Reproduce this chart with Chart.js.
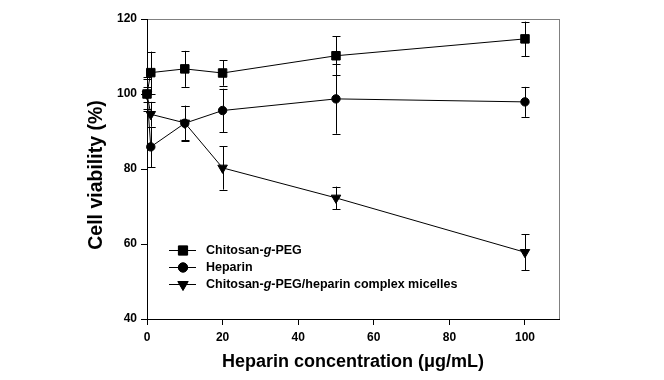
<!DOCTYPE html>
<html>
<head>
<meta charset="utf-8">
<script src="https://cdn.jsdelivr.net/npm/chart.js@4.4.1/dist/chart.umd.min.js"></script>
<style>
  html, body { margin: 0; padding: 0; background: #fff; }
  #wrap { width: 664px; height: 380px; }
</style>
</head>
<body>
<div id="wrap"><canvas id="viability" width="664" height="380"></canvas></div>
<script>
// --- data ---
const concentrations = [0, 1, 10, 20, 50, 100];
const chitosanPeg    = [100, 105.7, 106.7, 105.6, 110.2, 114.7];
const chitosanPegErr = [4.6, 5.6, 4.8, 3.4, 5.2, 4.6];
const heparin        = [100, 85.9, 92.2, 95.6, 98.7, 97.9];
const heparinErr     = [2.0, 5.4, 4.7, 5.8, 9.3, 4.0];
const micelles       = [100, 94.6, 92.3, 80.3, 72.3, 57.8];
const micellesErr    = [4.0, 3.3, 4.5, 5.8, 3.0, 4.8];
const xTicks = [0, 20, 40, 60, 80, 100];
const yTicks = [40, 60, 80, 100, 120];

const FONT = '"Liberation Sans", Arial, Helvetica, sans-serif';

const toPoints = (ys) => ys.map((y, i) => ({ x: concentrations[i], y }));

const seriesDefs = [
    { label: 'Chitosan-g-PEG', values: chitosanPeg, err: chitosanPegErr, style: 'rect', radius: 6, rotation: 0 },
    { label: 'Heparin', values: heparin, err: heparinErr, style: 'circle', radius: 4.2, rotation: 0 },
    { label: 'Chitosan-g-PEG/heparin complex micelles', values: micelles, err: micellesErr, style: 'triangle', radius: 5.5, rotation: 180 },
];

// gray frame on top / right, axes themselves drawn black by the scales
const framePlugin = {
    id: 'frame',
    beforeDraw(chart) {
        const { ctx, chartArea: a } = chart;
        ctx.save();
        ctx.strokeStyle = '#808080';
        ctx.lineWidth = 1;
        ctx.strokeRect(a.left + 0.5, a.top + 0.5, a.right - a.left, a.bottom - a.top);
        ctx.restore();
    }
};

// vertical error bars with caps
const errorBarPlugin = {
    id: 'errorBars',
    beforeDatasetsDraw(chart) {
        const { ctx, scales: { x, y } } = chart;
        ctx.save();
        ctx.strokeStyle = '#000';
        ctx.lineWidth = 1;
        seriesDefs.forEach(s => {
            s.values.forEach((v, i) => {
                const px = Math.round(x.getPixelForValue(concentrations[i])) + 0.5;
                const top = y.getPixelForValue(v + s.err[i]);
                const bot = y.getPixelForValue(v - s.err[i]);
                ctx.beginPath();
                ctx.moveTo(px, top); ctx.lineTo(px, bot);
                ctx.moveTo(px - 4, Math.round(top) + 0.5); ctx.lineTo(px + 4, Math.round(top) + 0.5);
                ctx.moveTo(px - 4, Math.round(bot) + 0.5); ctx.lineTo(px + 4, Math.round(bot) + 0.5);
                ctx.stroke();
            });
        });
        ctx.restore();
    }
};

// legend inside the plot (italic "g") and the y title
const legendPlugin = {
    id: 'innerLegend',
    afterDraw(chart) {
        const { ctx, chartArea: a } = chart;
        const x0 = a.left + 22;
        const rows = [a.bottom - 68.5, a.bottom - 51.5, a.bottom - 34.5];
        ctx.save();
        seriesDefs.forEach((s, i) => {
            const yy = rows[i];
            ctx.strokeStyle = '#000';
            ctx.lineWidth = 1;
            ctx.beginPath();
            ctx.moveTo(x0, yy); ctx.lineTo(x0 + 27, yy);
            ctx.stroke();
            ctx.fillStyle = '#000';
            Chart.helpers.drawPoint(ctx, {
                pointStyle: s.style, radius: s.radius + 0.5, rotation: s.rotation, borderWidth: 1
            }, x0 + 14, yy);
            ctx.fill();

            ctx.textBaseline = 'middle';
            let tx = x0 + 37;
            const parts = s.label.split(/(-g-)/);
            parts.forEach(p => {
                if (p === '-g-') {
                    ctx.font = 'bold 12.5px ' + FONT;
                    ctx.fillText('-', tx, yy); tx += ctx.measureText('-').width;
                    ctx.font = 'italic bold 12.5px ' + FONT;
                    ctx.fillText('g', tx, yy); tx += ctx.measureText('g').width;
                    ctx.font = 'bold 12.5px ' + FONT;
                    ctx.fillText('-', tx, yy); tx += ctx.measureText('-').width;
                } else {
                    ctx.font = 'bold 12.5px ' + FONT;
                    ctx.fillText(p, tx, yy); tx += ctx.measureText(p).width;
                }
            });
        });

        // y axis title, sits a little below the plot's middle in the original
        ctx.translate(a.left - 50, (a.top + a.bottom) / 2 + 6);
        ctx.rotate(-Math.PI / 2);
        ctx.font = 'bold 19.5px ' + FONT;
        ctx.textAlign = 'center';
        ctx.textBaseline = 'middle';
        ctx.fillText('Cell viability (%)', 0, 0);
        ctx.restore();
    }
};

new Chart(document.getElementById('viability'), {
    type: 'line',
    data: {
        datasets: seriesDefs.map(s => ({
            label: s.label,
            data: toPoints(s.values),
            borderColor: '#000',
            borderWidth: 1,
            backgroundColor: '#000',
            pointBackgroundColor: '#000',
            pointBorderColor: '#000',
            pointStyle: s.style,
            pointRadius: s.radius,
            pointRotation: s.rotation,
            pointBorderWidth: 1,
            tension: 0,
            fill: false,
            clip: false
        }))
    },
    options: {
        responsive: false,
        animation: false,
        devicePixelRatio: 1,
        layout: { padding: { left: 91, top: 19, right: 105, bottom: 0 } },
        plugins: {
            legend: { display: false },
            tooltip: { enabled: false }
        },
        scales: {
            x: {
                type: 'linear',
                min: 0,
                max: 109,
                afterBuildTicks: (scale) => { scale.ticks = xTicks.map(v => ({ value: v })); },
                afterFit: (scale) => { scale.height = 61; },
                grid: { drawOnChartArea: false, drawTicks: true, tickLength: 6, color: '#000' },
                border: { display: true, color: '#000', width: 1 },
                ticks: {
                    color: '#000',
                    padding: 5,
                    maxRotation: 0,
                    font: { family: FONT, size: 12, weight: 'bold' }
                },
                title: {
                    display: true,
                    text: 'Heparin concentration (\u03bcg/mL)',
                    color: '#000',
                    padding: { top: 0, bottom: 7 },
                    font: { family: FONT, size: 18, weight: 'bold' }
                }
            },
            y: {
                type: 'linear',
                min: 40,
                max: 120,
                afterBuildTicks: (scale) => { scale.ticks = yTicks.map(v => ({ value: v })); },
                afterFit: (scale) => { scale.width = 56; },
                grid: { drawOnChartArea: false, drawTicks: true, tickLength: 6, color: '#000' },
                border: { display: true, color: '#000', width: 1 },
                ticks: {
                    color: '#000',
                    padding: 4,
                    font: { family: FONT, size: 12, weight: 'bold' }
                },
                title: { display: false }
            }
        }
    },
    plugins: [framePlugin, errorBarPlugin, legendPlugin]
});
</script>
</body>
</html>
